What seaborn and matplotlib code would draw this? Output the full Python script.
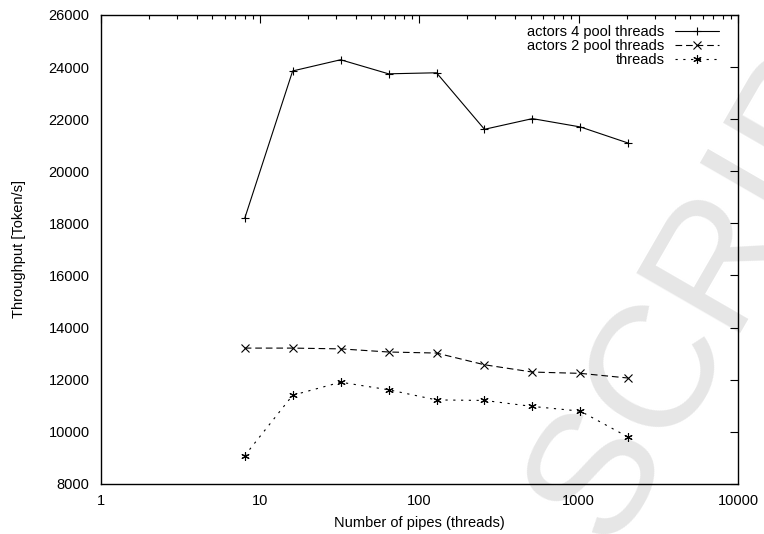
import pandas as pd
import matplotlib
matplotlib.use("Agg")
import matplotlib.pyplot as plt
import seaborn as sns
from matplotlib.ticker import LogLocator, FixedLocator, NullFormatter

# data
pipes = [8, 16, 32, 64, 128, 256, 512, 1024, 2048]
actors4 = [18190, 23850, 24280, 23740, 23780, 21610, 22020, 21700, 21080]
actors2 = [13210, 13210, 13180, 13060, 13020, 12570, 12290, 12240, 12060]
threads = [9080, 11400, 11900, 11610, 11220, 11200, 10970, 10790, 9790]
series_names = ["actors 4 pool threads", "actors 2 pool threads", "threads"]

df = pd.concat([
    pd.DataFrame({"pipes": pipes, "tput": actors4, "series": series_names[0]}),
    pd.DataFrame({"pipes": pipes, "tput": actors2, "series": series_names[1]}),
    pd.DataFrame({"pipes": pipes, "tput": threads, "series": series_names[2]}),
])

sns.set_style("white")
plt.rcParams["font.family"] = ["Liberation Sans", "DejaVu Sans"]
plt.rcParams["text.color"] = "black"
plt.rcParams["xtick.color"] = "black"
plt.rcParams["ytick.color"] = "black"
plt.rcParams["axes.labelcolor"] = "black"

fig = plt.figure(figsize=(7.64, 5.34), dpi=100)
ax = fig.add_axes([0.132, 0.094, 0.834, 0.878])
ax.set_facecolor("none")

# faint watermark behind the plot
fig.text(0.955, 0.535, "SCRIPT", fontsize=125, color="#e6e6e6", rotation=60,
         ha="center", va="center", zorder=-1)

sns.lineplot(data=df, x="pipes", y="tput", style="series", ax=ax,
             color="black", linewidth=0.8,
             markers=["+", "x", (6, 2, 0)],
             dashes=["", (6, 3.5), (2, 5)],
             markersize=6, markeredgewidth=0.8, markeredgecolor="black",
             legend="full")

ax.set_xscale("log")
ax.set_xlim(1, 10000)
ax.set_ylim(8000, 26000)
ax.yaxis.set_major_locator(FixedLocator(list(range(8000, 26001, 2000))))
ax.xaxis.set_minor_locator(LogLocator(base=10, subs=range(2, 10)))
ax.xaxis.set_minor_formatter(NullFormatter())
ax.set_xticks([1, 10, 100, 1000, 10000])
ax.set_xticklabels(["1", "10", "100", "1000", "10000"])

ax.tick_params(which="both", direction="in", top=True, right=True,
               labelsize=10.5, color="black", labelcolor="black")
ax.tick_params(which="major", length=5.5, width=0.8)
ax.tick_params(which="minor", length=2.8, width=0.8)
ax.tick_params(axis="y", pad=8)
ax.tick_params(axis="x", pad=7)
for s in ax.spines.values():
    s.set_color("black")
    s.set_linewidth(1.0)

ax.set_xlabel("Number of pipes (threads)", fontsize=10.5, labelpad=6)
ax.set_ylabel("Throughput [Token/s]", fontsize=10.5)
ax.yaxis.set_label_coords(-0.118, 0.5)

h, l = ax.get_legend_handles_labels()
ax.legend(h, l, loc="upper right", bbox_to_anchor=(0.975, 0.985),
          frameon=False, markerfirst=False, fontsize=10.5,
          handlelength=3.0, handletextpad=0.75, labelspacing=0.02,
          borderaxespad=0.0, borderpad=0.2)

fig.savefig("out.png", dpi=100)
